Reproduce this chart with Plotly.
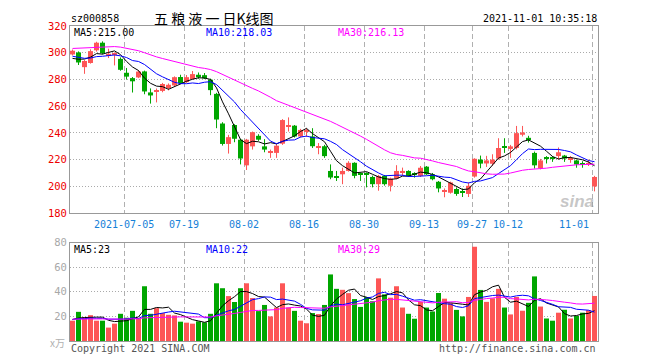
import plotly.graph_objects as go

# ---------------- data ----------------
dates = [
    "2021-06-22", "2021-06-23", "2021-06-24", "2021-06-25", "2021-06-28", "2021-06-29", "2021-06-30",
    "2021-07-01", "2021-07-02", "2021-07-05", "2021-07-06", "2021-07-07", "2021-07-08", "2021-07-09",
    "2021-07-12", "2021-07-13", "2021-07-14", "2021-07-15", "2021-07-16", "2021-07-19", "2021-07-20",
    "2021-07-21", "2021-07-22", "2021-07-23", "2021-07-26", "2021-07-27", "2021-07-28", "2021-07-29",
    "2021-07-30", "2021-08-02", "2021-08-03", "2021-08-04", "2021-08-05", "2021-08-06", "2021-08-09",
    "2021-08-10", "2021-08-11", "2021-08-12", "2021-08-13", "2021-08-16", "2021-08-17", "2021-08-18",
    "2021-08-19", "2021-08-20", "2021-08-23", "2021-08-24", "2021-08-25", "2021-08-26", "2021-08-27",
    "2021-08-30", "2021-08-31", "2021-09-01", "2021-09-02", "2021-09-03", "2021-09-06", "2021-09-07",
    "2021-09-08", "2021-09-09", "2021-09-10", "2021-09-13", "2021-09-14", "2021-09-15", "2021-09-16",
    "2021-09-17", "2021-09-22", "2021-09-23", "2021-09-24", "2021-09-27", "2021-09-28", "2021-09-29",
    "2021-09-30", "2021-10-08", "2021-10-11", "2021-10-12", "2021-10-13", "2021-10-14", "2021-10-15",
    "2021-10-18", "2021-10-19", "2021-10-20", "2021-10-21", "2021-10-22", "2021-10-25", "2021-10-26",
    "2021-10-27", "2021-10-28", "2021-10-29", "2021-11-01",
]

open_ = [298.7, 300.2, 289.2, 292.3, 301.8, 307.5, 298.0, 298.5, 295.4, 285.0,
         281.0, 281.5, 286.0, 270.3, 270.8, 271.4, 273.6, 275.5, 281.8, 278.0,
         280.3, 283.5, 283.2, 279.8, 269.2, 247.0, 231.7, 245.9, 234.9, 215.7,
         229.9, 237.8, 229.9, 225.0, 225.0, 231.9, 245.0, 245.4, 237.3, 241.0,
         237.3, 229.4, 230.0, 211.5, 207.0, 209.0, 211.5, 217.6, 209.5, 209.5,
         207.0, 201.6, 207.8, 200.4, 205.8, 210.3, 211.5, 209.5, 207.8, 214.7,
         209.0, 203.4, 196.2, 195.2, 198.0, 195.8, 194.3, 207.3, 220.0, 217.1,
         216.9, 220.8, 229.4, 228.0, 228.7, 238.6, 236.3, 225.0, 213.5, 221.2,
         221.2, 222.6, 223.0, 219.7, 219.4, 216.7, 216.7, 199.9]
high = [302.4, 301.0, 294.5, 302.6, 308.2, 308.5, 303.0, 300.2, 296.5, 288.6,
        281.8, 287.0, 286.6, 273.3, 273.2, 277.4, 277.0, 282.3, 283.5, 283.3,
        286.3, 285.2, 284.8, 280.6, 270.0, 248.0, 238.5, 246.5, 235.5, 235.5,
        241.0, 239.0, 235.3, 227.5, 231.6, 250.3, 251.6, 245.9, 243.0, 243.5,
        243.5, 232.4, 231.0, 216.4, 211.5, 214.0, 218.8, 218.0, 210.5, 210.5,
        208.0, 208.5, 208.5, 206.5, 215.8, 214.0, 212.0, 210.5, 215.2, 215.2,
        210.0, 204.0, 198.4, 203.5, 199.2, 198.4, 202.9, 221.0, 223.0, 222.8,
        224.0, 236.0, 236.0, 231.0, 245.2, 245.2, 237.8, 226.0, 220.5, 222.6,
        222.6, 229.1, 223.5, 222.6, 220.0, 218.8, 220.0, 207.8]
low = [298.0, 290.8, 284.2, 291.8, 300.8, 298.8, 296.0, 290.5, 286.5, 279.9,
       270.2, 281.0, 268.9, 261.9, 262.8, 270.4, 271.8, 275.0, 276.6, 277.4,
       280.0, 280.5, 280.3, 268.2, 243.5, 230.5, 224.5, 233.0, 216.4, 212.2,
       227.5, 234.0, 225.5, 221.3, 221.3, 231.0, 241.0, 236.5, 236.5, 237.0,
       228.7, 224.0, 221.3, 205.3, 204.0, 201.6, 211.0, 206.0, 204.0, 199.2,
       199.2, 196.7, 200.5, 196.2, 205.3, 207.8, 207.0, 206.5, 207.0, 208.5,
       204.5, 195.5, 191.8, 194.5, 192.9, 192.0, 192.0, 206.5, 213.5, 214.5,
       215.4, 220.0, 225.0, 221.3, 227.6, 237.3, 232.7, 213.3, 212.7, 217.1,
       218.3, 220.0, 218.3, 217.6, 213.9, 213.9, 215.2, 196.2]
close = [301.5, 292.7, 293.8, 301.2, 307.5, 299.5, 299.2, 299.5, 287.2, 282.1,
         278.6, 285.9, 271.0, 268.0, 271.5, 276.6, 276.0, 281.7, 277.2, 281.7,
         284.0, 281.6, 280.8, 272.0, 250.0, 231.7, 236.8, 235.6, 220.8, 234.9,
         240.5, 234.9, 227.5, 225.6, 230.4, 249.6, 245.8, 237.3, 242.2, 242.0,
         230.0, 230.0, 222.6, 206.6, 206.6, 211.5, 217.6, 207.8, 209.0, 209.0,
         201.6, 207.8, 201.6, 205.8, 211.5, 211.5, 207.8, 208.5, 213.9, 209.0,
         205.3, 198.4, 197.0, 202.9, 194.3, 195.3, 200.4, 220.6, 217.0, 219.4,
         220.0, 228.7, 228.7, 229.9, 239.8, 240.3, 235.0, 215.7, 219.4, 220.8,
         220.8, 225.5, 220.8, 220.1, 216.4, 216.4, 217.1, 207.0]
volume = [16.5, 23.7, 19.2, 21.0, 16.5, 16.5, 10.9, 14.1, 22.1, 18.9,
          24.5, 18.4, 44.5, 22.1, 26.7, 22.7, 21.3, 20.8, 15.7, 14.9,
          14.1, 16.0, 15.2, 22.1, 46.9, 42.9, 36.5, 31.7, 42.9, 46.9,
          34.9, 24.3, 29.3, 20.0, 27.2, 46.9, 27.2, 24.5, 16.5, 14.4,
          22.7, 21.9, 29.3, 54.1, 42.4, 41.6, 38.9, 34.1, 27.7, 35.7,
          32.3, 50.9, 37.9, 35.2, 44.5, 27.2, 22.1, 18.1, 31.7, 27.2,
          24.0, 39.0, 34.4, 30.7, 25.3, 20.0, 35.8, 76.5, 41.5, 31.8,
          34.7, 42.4, 27.2, 21.6, 35.8, 24.6, 31.0, 52.5, 28.0, 18.3,
          16.5, 23.0, 25.4, 18.3, 20.4, 23.0, 25.0, 36.6]

# closes / volumes of the 29 sessions before the first shown day (needed for the moving averages)
pre_close = [288, 291, 294, 296, 293, 295, 294, 300, 305, 309, 313, 316, 318, 315, 313,
             311, 318, 319, 317, 317, 302, 300, 299, 297, 296.8, 296, 293, 294, 294.3]
pre_volume = [19, 17, 21, 16, 18, 15, 20, 17, 19, 18, 16, 22, 17, 18, 15,
              19, 17, 20, 16, 18, 17, 19, 16, 18, 17, 18, 17, 19, 17]

tick_dates = ["2021-07-05", "2021-07-19", "2021-08-02", "2021-08-16", "2021-08-30",
              "2021-09-13", "2021-09-27", "2021-10-12", "2021-11-01"]
tick_text = ["2021-07-05", "07-19", "08-02", "08-16", "08-30", "09-13", "09-27", "10-12", "11-01"]
price_ticks = [180, 200, 220, 240, 260, 280, 300, 320]
vol_ticks = [20, 40, 60, 80]

title_code = "sz000858"
title_text = "五 粮 液 一 日K线图"
stamp = "2021-11-01 10:35:18"
price_ma_text = ["MA5:215.00", "MA10:218.03", "MA30:216.13"]
vol_ma_text = ["MA5:23", "MA10:22", "MA30:29"]

# ---------------- helpers ----------------
RED = "#fd5656"
GREEN = "#00a600"
MA_COLORS = ["#000000", "#0000ff", "#ff00ff"]
MONO = "DejaVu Sans Mono, Liberation Mono, monospace"

# the page body has an 8px margin, so the figure is drawn 8px smaller and all
# page positions below are given in page pixels
OFF = 8
W, H = 660 - OFF, 360 - OFF
PLOT_L, PLOT_R, PLOT_T, PLOT_B = 70, 598, 21, 341      # page pixels of the drawing area
L = PLOT_L - OFF
R = W - (PLOT_R - OFF)
T = PLOT_T - OFF
B = H - (PLOT_B - OFF)
PW, PH = PLOT_R - PLOT_L, PLOT_B - PLOT_T


def px_x(px):
    return (px - PLOT_L) / PW


def px_y(py):
    return (PLOT_B - py) / PH


def moving_avg(pre, vals, n):
    allv = list(pre) + list(vals)
    off = len(pre)
    out = []
    for i in range(len(vals)):
        seg = allv[off + i - n + 1: off + i + 1]
        out.append(sum(seg) / len(seg))
    return out


x = list(range(len(dates)))
cols = [RED if c >= o else GREEN for o, c in zip(open_, close)]
body_base = [min(o, c) for o, c in zip(open_, close)]
body_h = [max(abs(c - o), 0.75) for o, c in zip(open_, close)]

fig = go.Figure()

# wicks
for colr in (RED, GREEN):
    wx, wy = [], []
    for i in x:
        if cols[i] == colr:
            wx += [i, i, None]
            wy += [low[i], high[i], None]
    fig.add_trace(go.Scatter(x=wx, y=wy, mode="lines", line=dict(color=colr, width=1),
                             xaxis="x", yaxis="y", hoverinfo="skip"))

# bodies
fig.add_trace(go.Bar(x=x, y=body_h, base=body_base, width=5 / 6, marker=dict(color=cols, line=dict(width=0)),
                     xaxis="x", yaxis="y", hoverinfo="skip"))

# price MAs
for n, c in zip((5, 10, 30), MA_COLORS):
    fig.add_trace(go.Scatter(x=x, y=moving_avg(pre_close, close, n), mode="lines",
                             line=dict(color=c, width=1), xaxis="x", yaxis="y", hoverinfo="skip"))

# volume bars
fig.add_trace(go.Bar(x=x, y=volume, width=5 / 6, marker=dict(color=cols, line=dict(width=0)),
                     xaxis="x2", yaxis="y2", hoverinfo="skip"))
for n, c in zip((5, 10, 30), MA_COLORS):
    fig.add_trace(go.Scatter(x=x, y=moving_avg(pre_volume, volume, n), mode="lines",
                             line=dict(color=c, width=1), xaxis="x2", yaxis="y2", hoverinfo="skip"))

grid_x = [dates.index(d) - 0.37 for d in tick_dates]
xr = [-0.42, len(dates) - 0.42]

axis_common = dict(showline=True, mirror=True, linecolor="#999999", linewidth=1, zeroline=False,
                   ticks="", fixedrange=True)
top_dom = [px_y(211), 1]
bot_dom = [0, px_y(241)]

fig.update_layout(
    width=W, height=H,
    margin=dict(l=L, r=R, t=T, b=B, pad=0),
    paper_bgcolor="white", plot_bgcolor="white",
    showlegend=False, hovermode=False, barmode="overlay",
    xaxis=dict(domain=[0, 1], range=xr, anchor="y", tickvals=grid_x, showticklabels=False,
               showgrid=True, gridcolor="#b0b0b0", gridwidth=1, griddash="5px,3px", **axis_common),
    yaxis=dict(domain=top_dom, range=[180, 320], anchor="x", tickvals=price_ticks,
               ticktext=[str(v) for v in price_ticks], tickfont=dict(family=MONO, size=10.5, color="#ee0000"),
               showgrid=True, gridcolor="#aaaaaa", gridwidth=1, griddash="1px,2px", **axis_common),
    xaxis2=dict(domain=[0, 1], range=xr, anchor="y2", tickvals=grid_x, showticklabels=False,
                showgrid=True, gridcolor="#b0b0b0", gridwidth=1, griddash="5px,3px", **axis_common),
    yaxis2=dict(domain=bot_dom, range=[0, 80], anchor="x2", tickvals=vol_ticks,
                ticktext=[str(v) for v in vol_ticks], tickfont=dict(family=MONO, size=10.5, color="#a8a8a8"),
                showgrid=True, gridcolor="#aaaaaa", gridwidth=1, griddash="1px,2px", **axis_common),
)

ann = []


def add_text(text, px, py, anchor="left", size=10, color="#000", family=MONO, **kw):
    ann.append(dict(text=text, x=px_x(px), y=px_y(py), xref="paper", yref="paper",
                    xanchor=anchor, yanchor="middle", showarrow=False,
                    font=dict(family=family, size=size, color=color), **kw))


add_text(title_code, 69, 13)
add_text(title_text, 214, 13, anchor="center", size=14, family="Noto Sans CJK SC")
add_text(stamp, 599, 13, anchor="right")

for t, px, c in zip(price_ma_text, (72, 204, 336), MA_COLORS):
    add_text(t, px, 28, color=c)
for t, px, c in zip(vol_ma_text, (72, 204, 336), MA_COLORS):
    add_text(t, px, 248, color=c)

# date labels under price chart
for d, t in zip(tick_dates, tick_text):
    i = dates.index(d) - 0.37
    pxv = PLOT_L + (i - xr[0]) * PW / (xr[1] - xr[0])
    if d == tick_dates[-1]:
        add_text(t, pxv - 1, 223, anchor="right", color="#1580d8")
    else:
        add_text(t, pxv, 223, anchor="center", color="#1580d8")

add_text("x万", 67, 343, anchor="right", color="#b0b0b0", family="Noto Sans CJK SC, " + MONO)
add_text("Copyright 2021 SINA.COM", 69, 349, color="#555555")
add_text("http://finance.sina.com.cn", 598, 349, anchor="right", color="#555555")
add_text("<b><i>sina</i></b>", 596, 199, anchor="right", size=17, color="rgba(150,150,150,0.55)",
         family="Arial, Liberation Sans")

fig.update_layout(annotations=ann)
fig.write_html("out.html")
